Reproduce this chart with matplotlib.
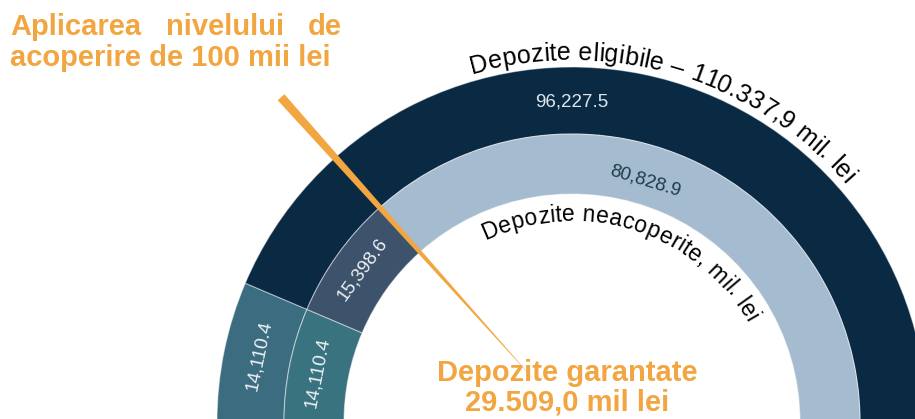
import numpy as np
import matplotlib.pyplot as plt
from matplotlib.patches import Wedge, Polygon
from matplotlib.font_manager import FontProperties

# --> Data
outer_labels = ['14,110.4', '96,227.5']
outer_values = [14110.4, 96227.5]
outer_colors = ['#3b6c80', '#0a2942']

inner_labels = ['14,110.4', '15,398.6', '80,828.9']
inner_values = [14110.4, 15398.6, 80828.9]
inner_colors = ['#3a7380', '#3d526b', '#a5bbcf']
inner_text_colors = ['#eef2f5', '#eef2f5', '#1d3d47']

title_words = ['Aplicarea', 'nivelului', 'de']
title_line2 = 'acoperire de 100 mii lei'
outer_arc_text = 'Depozite eligibile – 110.337,9 mil. lei'
inner_arc_text = 'Depozite neacoperite, mil. lei'
guaranteed_text = 'Depozite garantate\n29.509,0 mil lei'
guaranteed_value = inner_values[0] + inner_values[1]

orange = '#f2a641'
W, H = 915, 419
cx, cy = 572, -3          # centre of the half donut (pixel units, y up)
r_in, r_mid, r_out = 228, 288, 355

fig = plt.figure(figsize=(W / 100, H / 100), dpi=100)
ax = fig.add_axes([0, 0, 1, 1])
ax.set_xlim(0, W)
ax.set_ylim(0, H)
ax.set_aspect('equal')
ax.axis('off')
plt.rcParams['font.family'] = ['Liberation Sans', 'DejaVu Sans']


def ring(values, colors, r0, r1):
    total = sum(values)
    start = 180.0
    for v, c in zip(values, colors):
        span = 180.0 * v / total
        ax.add_patch(Wedge((cx, cy), r1, start - span, start, width=r1 - r0,
                           facecolor=c, edgecolor=(1, 1, 1, 0.45), linewidth=0.8))
        start -= span


ring(outer_values, outer_colors, r_mid, r_out)
ring(inner_values, inner_colors, r_in, r_mid)

# --> value labels (tangential)
def put_label(txt, ang, r, color):
    a = np.radians(ang)
    ax.text(cx + r * np.cos(a), cy + r * np.sin(a), txt, ha='center', va='center',
            rotation=ang - 90, rotation_mode='anchor', fontsize=13.5,
            color=color, family='Liberation Sans')

put_label(outer_labels[0], 168, 320, '#eef2f5')
put_label(outer_labels[1], 90, 320, '#dde6ee')
put_label(inner_labels[0], 169, 259, inner_text_colors[0])
put_label(inner_labels[1], 144, 259, inner_text_colors[1])
put_label(inner_labels[2], 73, 252, inner_text_colors[2])

# --> curved text
fig.canvas.draw()
renderer = fig.canvas.get_renderer()


def arc_text(s, mid_ang, r, size, spacing=1.0):
    fp = FontProperties(family='Liberation Sans', size=size)
    widths = [renderer.get_text_width_height_descent(s[:i], fp, ismath=False)[0] * spacing
              for i in range(len(s) + 1)]
    total = widths[-1]
    a0 = np.radians(mid_ang) + (total / 2) / r
    for i, ch in enumerate(s):
        if ch == ' ':
            continue
        pos = (widths[i] + widths[i + 1]) / 2
        a = a0 - pos / r
        ax.text(cx + r * np.cos(a), cy + r * np.sin(a), ch, fontproperties=fp,
                ha='center', va='baseline', rotation=np.degrees(a) - 90,
                rotation_mode='anchor', color='black')

arc_text(outer_arc_text, 73.5, 362, 18, 1.02)
arc_text(inner_arc_text, 72.5, 201, 16.5, 1.03)

# --> needle at the guaranteed-deposit boundary
ang = np.radians(180 - 180 * guaranteed_value / sum(inner_values))
d = np.array([np.cos(ang), np.sin(ang)])
n = np.array([-d[1], d[0]])
c = np.array([cx, cy])
tip_out, tip_in = 436, 55
needle = [c + d * tip_out + n * 4.5, c + d * tip_out - n * 4.5, c + d * tip_in]
ax.add_patch(Polygon(needle, closed=True, facecolor=orange, edgecolor='none', zorder=5))

# --> orange annotations
tfp = dict(fontsize=21, fontweight='bold', color=orange, family='Liberation Sans')
ax.text(10, H - 27, title_words[0], ha='left', va='center', **tfp)
ax.text(225, H - 27, title_words[1], ha='center', va='center', **tfp)
ax.text(342, H - 27, title_words[2], ha='right', va='center', **tfp)
ax.text(10, H - 58, title_line2, ha='left', va='center', **tfp)
ax.text(567, H - 388, guaranteed_text, ha='center', va='center',
        linespacing=1.05, **tfp)

fig.savefig('out.png', dpi=100)
